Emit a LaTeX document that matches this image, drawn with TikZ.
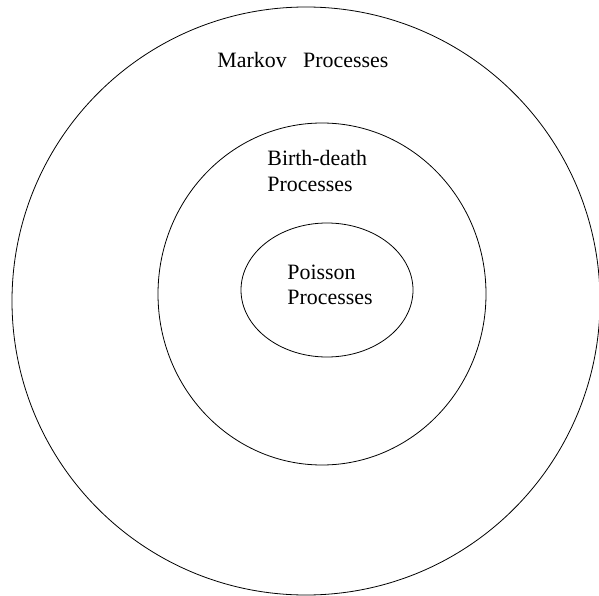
\documentclass[tikz,border=0pt]{standalone}
\usepackage{fontspec}
\setmainfont{Liberation Serif}
\usetikzlibrary{positioning}

\begin{document}
\begin{tikzpicture}[x=1pt,y=-1pt,line width=0.8pt,
  lbl/.style={anchor=base west,inner sep=0pt,align=left,
    font=\fontsize{21.9}{25}\selectfont}]
  \useasboundingbox (0,0) rectangle (599,596);
  \coordinate (M) at (306,301);
  \coordinate (B) at (322,294);
  \coordinate (P) at (327,290);
  \draw (M) circle [radius=294];
  \draw (B) ellipse [x radius=164, y radius=171];
  \draw (P) ellipse [x radius=86, y radius=67];
  % multi-line nodes: base is the last line
  \node[lbl] (markov) at (217,68) {Markov\hspace{11pt} Processes};
  \node[lbl] (birth) at (267,191) {Birth-death\\Processes};
  \node[lbl] (poisson) at (287,304) {Poisson\\Processes};
\end{tikzpicture}
\end{document}
